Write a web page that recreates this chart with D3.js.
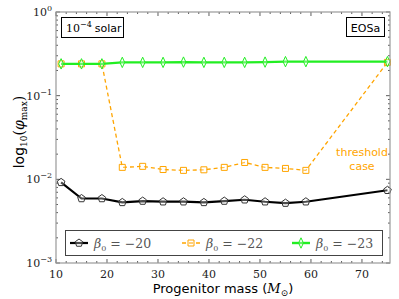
<!DOCTYPE html>
<html lang="en">
<head>
<meta charset="UTF-8">
<title>phi max vs progenitor mass</title>
<script src="https://d3js.org/d3.v7.min.js"></script>
<style>
    body {margin: 0; background: white;}
    .serif {font-family: "DejaVu Serif", "Liberation Serif", serif;}
    .sans {font-family: "DejaVu Sans", sans-serif;}
</style>
</head>
<body>
<div id="chart"></div>
<script>
    // progenitor masses (M_sun)
    var masses = [11, 15, 19, 23, 27, 31, 35, 39, 43, 47, 51, 55, 59, 75];
    var beta20 = [0.0092, 0.0059, 0.0059, 0.0053, 0.0055, 0.0054, 0.0054, 0.0053, 0.0055, 0.0057, 0.0054, 0.0052, 0.0054, 0.0074];
    var beta22 = [0.24, 0.24, 0.24, 0.0139, 0.0143, 0.0131, 0.0128, 0.013, 0.0139, 0.0159, 0.0139, 0.0135, 0.0128, 0.25];
    var beta23 = [0.24, 0.24, 0.24, 0.25, 0.25, 0.25, 0.252, 0.25, 0.25, 0.25, 0.252, 0.255, 0.255, 0.255];
    var xTicks = [10, 20, 30, 40, 50, 60, 70];
    var yTicks = [-3, -2, -1, 0];

    var W = 399, H = 299;
    var margin = {top: 12, right: 9, bottom: 36, left: 56};

    var x = d3.scaleLinear().domain([10, 75.5]).range([margin.left, W - margin.right]);
    var y = d3.scaleLog().domain([1e-3, 1]).range([H - margin.bottom, margin.top]);

    var svg = d3.select("#chart").append("svg")
        .attr("width", W).attr("height", H);

    var series = [
        {name: "-20", values: beta20, color: "black", width: 2.2, dash: null, marker: "pentagon"},
        {name: "-22", values: beta22, color: "#ffa500", width: 1.3, dash: "4,3", marker: "square"},
        {name: "-23", values: beta23, color: "#22ee22", width: 2.4, dash: null, marker: "diamond"}
    ];

    // ticks (inward)
    var g = svg.append("g");
    var minorX = d3.range(10, 76, 2);
    g.selectAll(".mx").data(minorX).enter().append("line")
        .attr("x1", d => x(d)).attr("x2", d => x(d))
        .attr("y1", y(1e-3)).attr("y2", d => y(1e-3) - (d % 10 == 0 ? 4 : 2))
        .attr("stroke", "#333").attr("stroke-width", 0.8);
    g.selectAll(".mxt").data(minorX).enter().append("line")
        .attr("x1", d => x(d)).attr("x2", d => x(d))
        .attr("y1", y(1)).attr("y2", d => y(1) + (d % 10 == 0 ? 4 : 2))
        .attr("stroke", "#333").attr("stroke-width", 0.8);

    var minorY = [];
    yTicks.forEach(function(e) {
        if (e < 0) for (var k = 2; k < 10; k++) minorY.push(k * Math.pow(10, e));
    });
    [margin.left, W - margin.right].forEach(function(x0, side) {
        var s = side == 0 ? 1 : -1;
        g.selectAll(null).data(minorY).enter().append("line")
            .attr("x1", x0).attr("x2", x0 + s * 2)
            .attr("y1", d => y(d)).attr("y2", d => y(d))
            .attr("stroke", "#333").attr("stroke-width", 0.8);
        g.selectAll(null).data(yTicks).enter().append("line")
            .attr("x1", x0).attr("x2", x0 + s * 4)
            .attr("y1", d => y(Math.pow(10, d))).attr("y2", d => y(Math.pow(10, d)))
            .attr("stroke", "#333").attr("stroke-width", 0.8);
    });

    // tick labels
    svg.selectAll(".xl").data(xTicks).enter().append("text")
        .attr("class", "serif")
        .attr("x", d => x(d)).attr("y", H - margin.bottom + 15)
        .attr("text-anchor", "middle").attr("font-size", 11).attr("fill", "#222")
        .text(d => d);

    var yl = svg.selectAll(".yl").data(yTicks).enter().append("text")
        .attr("class", "serif")
        .attr("x", margin.left - 4).attr("y", d => y(Math.pow(10, d)) + 4)
        .attr("text-anchor", "end").attr("font-size", 11).attr("fill", "#222");
    yl.append("tspan").text("10");
    yl.append("tspan").attr("dy", -5).attr("font-size", 8)
        .text(d => d == 0 ? "0" : "\u2212" + (-d));

    // lines and markers
    var line = d3.line().x(d => x(d[0])).y(d => y(d[1]));

    function markerPath(type, r) {
        if (type == "square") return "M" + (-r) + "," + (-r) + "H" + r + "V" + r + "H" + (-r) + "Z";
        if (type == "diamond") return "M0," + (-r * 1.3) + "L" + (r * 0.6) + ",0L0," + (r * 1.3) + "L" + (-r * 0.6) + ",0Z";
        var pts = d3.range(5).map(function(i) {
            var a = -Math.PI / 2 + i * 2 * Math.PI / 5;
            return [r * Math.cos(a), r * Math.sin(a)];
        });
        return "M" + pts.join("L") + "Z";
    }

    series.forEach(function(s) {
        var pts = masses.map((m, i) => [m, s.values[i]]);
        svg.append("path").datum(pts)
            .attr("d", line)
            .attr("fill", "none")
            .attr("stroke", s.color)
            .attr("stroke-width", s.width)
            .attr("stroke-dasharray", s.dash);
        svg.selectAll(null).data(pts).enter().append("path")
            .attr("transform", d => "translate(" + x(d[0]) + "," + y(d[1]) + ")")
            .attr("d", markerPath(s.marker, s.marker == "square" ? 3 : 4))
            .attr("fill", "white").attr("fill-opacity", 0.3)
            .attr("stroke", s.color == "black" ? "#333" : s.color)
            .attr("stroke-width", 1);
    });

    // frame
    svg.append("rect")
        .attr("x", margin.left).attr("y", margin.top)
        .attr("width", W - margin.right - margin.left)
        .attr("height", H - margin.bottom - margin.top)
        .attr("fill", "none").attr("stroke", "#999").attr("stroke-width", 1.2);

    // annotation boxes
    svg.append("rect").attr("x", 61.5).attr("y", 17.5).attr("width", 62).attr("height", 20)
        .attr("fill", "white").attr("stroke", "black").attr("stroke-width", 1);
    var t1 = svg.append("text").attr("x", 66).attr("y", 32).attr("font-size", 11);
    t1.append("tspan").attr("class", "serif").text("10");
    t1.append("tspan").attr("class", "serif").attr("dy", -5).attr("font-size", 8).text("\u22124");
    t1.append("tspan").attr("class", "sans").attr("dy", 5).attr("dx", 3).text("solar");

    svg.append("rect").attr("x", 346.5).attr("y", 17.5).attr("width", 38).attr("height", 19)
        .attr("fill", "white").attr("stroke", "black").attr("stroke-width", 1);
    svg.append("text").attr("class", "sans").attr("x", 365.5).attr("y", 31.5)
        .attr("text-anchor", "middle").attr("font-size", 11).text("EOSa");

    svg.append("text").attr("class", "sans").attr("x", 362).attr("y", 156)
        .attr("text-anchor", "middle").attr("font-size", 11).attr("fill", "#ffa500").text("threshold");
    svg.append("text").attr("class", "sans").attr("x", 362).attr("y", 170)
        .attr("text-anchor", "middle").attr("font-size", 11).attr("fill", "#ffa500").text("case");

    // legend
    svg.append("rect").attr("x", 65.5).attr("y", 230.5).attr("width", 317).attr("height", 25)
        .attr("fill", "white").attr("stroke", "#444").attr("stroke-width", 1);
    var legX = [70, 182, 292];
    series.forEach(function(s, i) {
        var lx = legX[i], ly = 243;
        svg.append("line").attr("x1", lx).attr("x2", lx + 18).attr("y1", ly).attr("y2", ly)
            .attr("stroke", s.color).attr("stroke-width", s.width).attr("stroke-dasharray", s.dash);
        svg.append("path").attr("transform", "translate(" + (lx + 9) + "," + ly + ")")
            .attr("d", markerPath(s.marker, s.marker == "square" ? 3 : 4))
            .attr("fill", "white").attr("fill-opacity", 0.3)
            .attr("stroke", s.color == "black" ? "#333" : s.color).attr("stroke-width", 1);
        var t = svg.append("text").attr("class", "serif").attr("x", lx + 24).attr("y", ly + 5)
            .attr("font-size", 12.5).attr("fill", "#555");
        t.append("tspan").attr("font-style", "italic").text("\u03b2");
        t.append("tspan").attr("dy", 3).attr("font-size", 8).text("0");
        t.append("tspan").attr("dy", -3).text(" = \u2212" + s.name.slice(1));
    });

    // axis titles
    var xt = svg.append("text").attr("class", "sans")
        .attr("x", (margin.left + W - margin.right) / 2).attr("y", 293)
        .attr("text-anchor", "middle").attr("font-size", 13);
    xt.append("tspan").text("Progenitor mass (");
    xt.append("tspan").attr("class", "serif").attr("font-style", "italic").text("M");
    xt.append("tspan").attr("class", "serif").attr("font-size", 9).attr("dy", 3).text("\u2299");
    xt.append("tspan").attr("dy", -3).text(")");

    var yt = svg.append("text").attr("class", "serif")
        .attr("transform", "translate(24,132) rotate(-90)")
        .attr("text-anchor", "middle").attr("font-size", 14);
    yt.append("tspan").attr("class", "sans").text("log");
    yt.append("tspan").attr("font-size", 9).attr("dy", 3).text("10");
    yt.append("tspan").attr("dy", -3).text("(");
    yt.append("tspan").attr("font-style", "italic").text("\u03c6");
    yt.append("tspan").attr("font-size", 9).attr("dy", 3).text("max");
    yt.append("tspan").attr("dy", -3).text(")");
</script>
</body>
</html>
